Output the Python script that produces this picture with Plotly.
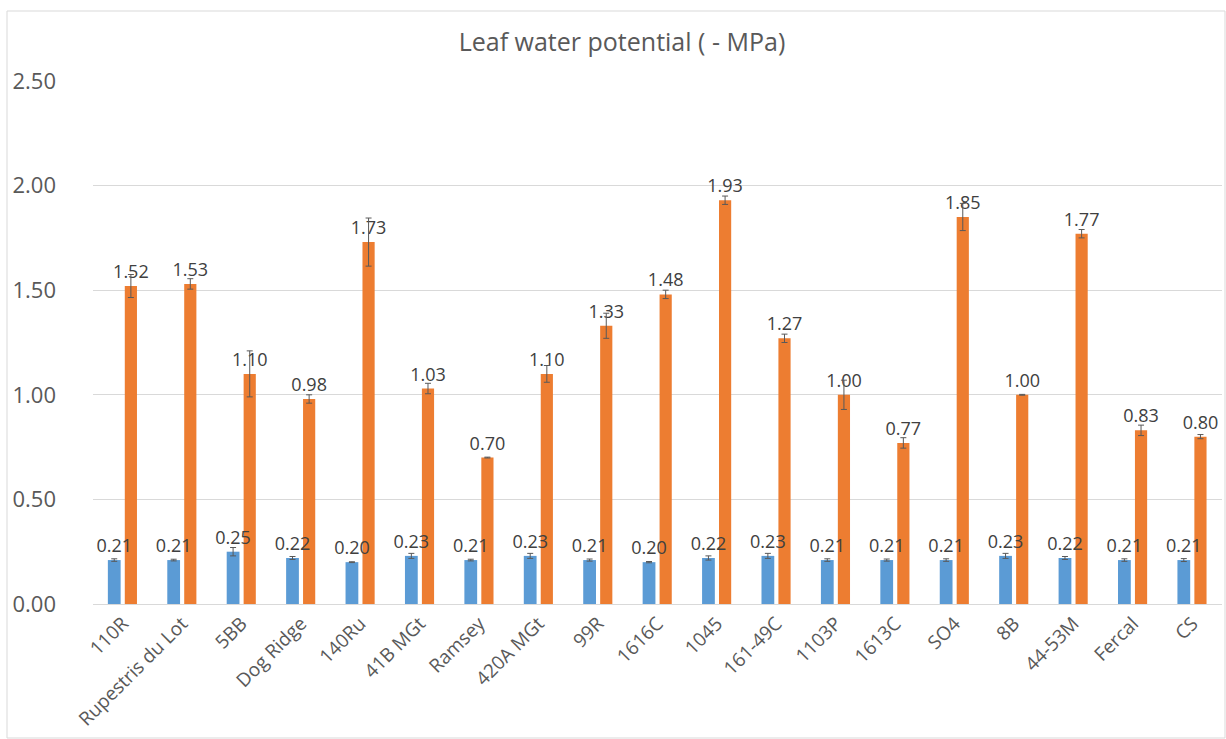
import plotly.graph_objects as go

categories = ["110R", "Rupestris du Lot", "5BB", "Dog Ridge", "140Ru", "41B MGt", "Ramsey",
              "420A MGt", "99R", "1616C", "1045", "161-49C", "1103P", "1613C", "SO4", "8B",
              "44-53M", "Fercal", "CS"]
control_vals = [0.21, 0.21, 0.25, 0.22, 0.20, 0.23, 0.21, 0.23, 0.21, 0.20, 0.22, 0.23, 0.21,
                0.21, 0.21, 0.23, 0.22, 0.21, 0.21]
control_err = [0.006, 0.004, 0.02, 0.007, 0.002, 0.012, 0.004, 0.012, 0.005, 0.003, 0.01, 0.012,
               0.006, 0.005, 0.006, 0.012, 0.007, 0.006, 0.007]
stress_vals = [1.52, 1.53, 1.10, 0.98, 1.73, 1.03, 0.70, 1.10, 1.33, 1.48, 1.93, 1.27, 1.00,
               0.77, 1.85, 1.00, 1.77, 0.83, 0.80]
stress_err = [0.055, 0.025, 0.11, 0.02, 0.115, 0.025, 0.002, 0.04, 0.06, 0.02, 0.02, 0.02, 0.07,
              0.025, 0.065, 0.002, 0.02, 0.025, 0.01]
y_ticks = [0.0, 0.5, 1.0, 1.5, 2.0, 2.5]
y_ticklabels = ["0.00", "0.50", "1.00", "1.50", "2.00", "2.50"]

FONT = "Open Sans"
GRAY = "#595959"
LABEL = "#404040"

fig = go.Figure()
# orange first so that the blue labels are drawn on top of the orange bars
fig.add_trace(go.Bar(
    x=categories, y=stress_vals, name="Stress",
    offset=0.035, width=0.205,
    marker=dict(color="#ED7D31", line=dict(width=0)),
    error_y=dict(type="data", array=stress_err, color="#595959", thickness=1, width=3),
    texttemplate="%{y:.2f}", textposition="outside",
    textfont=dict(family=FONT, size=18, color=LABEL), constraintext="none", cliponaxis=False,
))
fig.add_trace(go.Bar(
    x=categories, y=control_vals, name="Control",
    offset=-0.25, width=0.215,
    marker=dict(color="#5B9BD5", line=dict(width=0)),
    error_y=dict(type="data", array=control_err, color="#595959", thickness=1, width=3),
    texttemplate="%{y:.2f}", textposition="outside",
    textfont=dict(family=FONT, size=18, color=LABEL), constraintext="none", cliponaxis=False,
))

fig.update_layout(
    width=1226, height=739,
    paper_bgcolor="white", plot_bgcolor="white",
    margin=dict(l=93, r=4, t=81, b=135),
    barmode="overlay",
    showlegend=False,
    font=dict(family=FONT, color=GRAY),
    title=dict(text="Leaf water potential ( - MPa)", x=622 / 1226, xanchor="center",
               y=1 - 42 / 739, yanchor="middle", font=dict(family=FONT, size=25, color=GRAY)),
    xaxis=dict(tickangle=-45, tickfont=dict(family=FONT, size=19, color=GRAY),
               showline=True, linecolor="#D9D9D9", linewidth=1, ticks="", showgrid=False),
    yaxis=dict(range=[0, 2.5], tickvals=y_ticks, ticktext=y_ticklabels,
               tickfont=dict(family=FONT, size=22, color=GRAY),
               showgrid=True, gridcolor="#D9D9D9", gridwidth=1, zeroline=False,
               ticklabelstandoff=36, showline=False),
    shapes=[dict(type="rect", xref="paper", yref="paper",
                 x0=(7 - 93) / (1226 - 97), x1=(1225 - 93) / (1226 - 97),
                 y0=(739 - 135 - 738) / (739 - 216), y1=(739 - 135 - 11) / (739 - 216),
                 line=dict(color="#D9D9D9", width=1), fillcolor="rgba(0,0,0,0)", layer="below")],
)

fig.write_html("out.html", config={"displayModeBar": False},
               post_script="document.body.style.margin='0';document.body.style.overflow='hidden';")
